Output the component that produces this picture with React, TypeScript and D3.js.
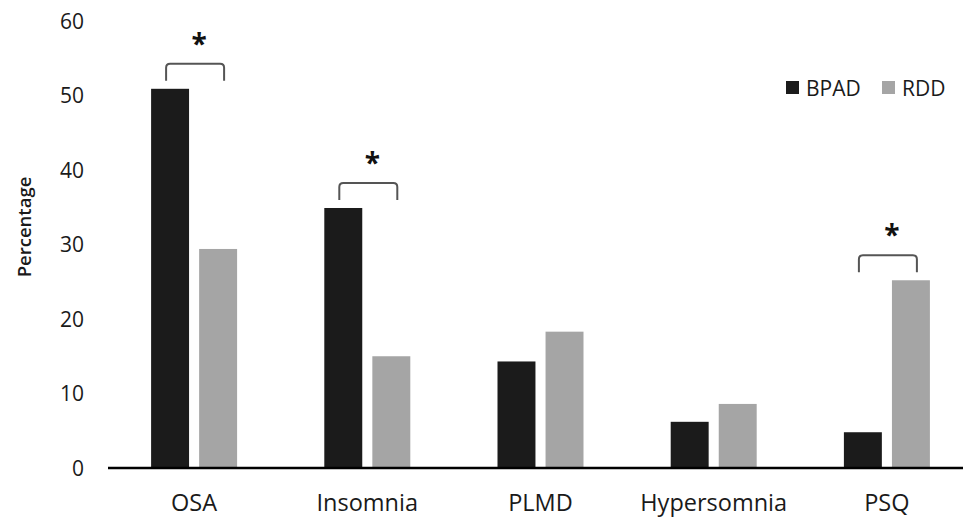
import React from "react";
import * as d3 from "d3";

const categories = ["OSA", "Insomnia", "PLMD", "Hypersomnia", "PSQ"];
const seriesNames = ["BPAD", "RDD"];
const bpadValues = [50.9, 34.9, 14.3, 6.2, 4.8];
const rddValues = [29.4, 15.0, 18.3, 8.6, 25.2];
const yTicks = [0, 10, 20, 30, 40, 50, 60];
const significant = ["OSA", "Insomnia", "PSQ"];
const colors = ["#1b1b1b", "#a5a5a5"];

const W = 963;
const H = 517;
const FONT = "'Open Sans', sans-serif";

export default function App() {
  const x = d3.scaleBand<string>().domain(categories).range([107.5, 973.5]).paddingInner(0).paddingOuter(0);
  const inner = d3.scaleBand<string>().domain(seriesNames).range([0, 86]).paddingInner(0.21);
  const y = d3.scaleLinear().domain([0, 60]).range([468, 21]);
  const groupOffset = (x.bandwidth() - 86) / 2;
  const series = [bpadValues, rddValues];

  return (
    <div style={{ position: "fixed", left: 0, top: 0 }}>
      <svg width={W} height={H} style={{ display: "block", background: "#fff" }}>
        {/* y tick labels */}
        {yTicks.map((t) => (
          <text key={t} x={84} y={y(t)} dy="0.36em" textAnchor="end" fontFamily={FONT} fontSize={21} fill="#1a1a1a">
            {t}
          </text>
        ))}
        {/* y label */}
        <text
          transform={`translate(31,227) rotate(-90)`}
          textAnchor="middle"
          fontFamily={FONT}
          fontSize={18.5}
          fontWeight={600}
          fill="#1a1a1a"
        >
          Percentage
        </text>
        {/* bars */}
        {categories.map((c, i) => (
          <g key={c} transform={`translate(${(x(c) as number) + groupOffset},0)`}>
            {seriesNames.map((s, j) => (
              <rect
                key={s}
                x={inner(s)}
                y={y(series[j][i])}
                width={inner.bandwidth()}
                height={y(0) - y(series[j][i])}
                fill={colors[j]}
              />
            ))}
          </g>
        ))}
        {/* axis line */}
        <line x1={108} x2={W} y1={y(0)} y2={y(0)} stroke="#000" strokeWidth={2.5} />
        {/* category labels */}
        {categories.map((c) => (
          <text key={c} x={(x(c) as number) + x.bandwidth() / 2} y={511} textAnchor="middle" fontFamily={FONT} fontSize={23.5} fill="#1a1a1a">
            {c}
          </text>
        ))}
        {/* significance brackets */}
        {categories.map((c, i) => {
          if (!significant.includes(c)) return null;
          const cx = (x(c) as number) + x.bandwidth() / 2 + 1;
          const top = y(Math.max(bpadValues[i], rddValues[i]));
          const yb = top - 8;
          const yt = yb - 17;
          const x1 = cx - 29;
          const x2 = cx + 29;
          const r = 4;
          const d = `M${x1},${yb} L${x1},${yt + r} Q${x1},${yt} ${x1 + r},${yt} L${x2 - r},${yt} Q${x2},${yt} ${x2},${yt + r} L${x2},${yb}`;
          return (
            <g key={c}>
              <path d={d} fill="none" stroke="#555" strokeWidth={2} />
              <text x={cx + 4} y={yt - 10} textAnchor="middle" fontFamily={FONT} fontSize={28} fontWeight={700} fill="#111">
                *
              </text>
            </g>
          );
        })}
        {/* legend */}
        {seriesNames.map((s, j) => {
          const lx = [786, 882][j];
          return (
            <g key={s}>
              <rect x={lx} y={81} width={13} height={13} fill={colors[j]} />
              <text x={lx + 20} y={88} dy="0.36em" fontFamily={FONT} fontSize={21} fill="#1a1a1a">
                {s}
              </text>
            </g>
          );
        })}
      </svg>
    </div>
  );
}
